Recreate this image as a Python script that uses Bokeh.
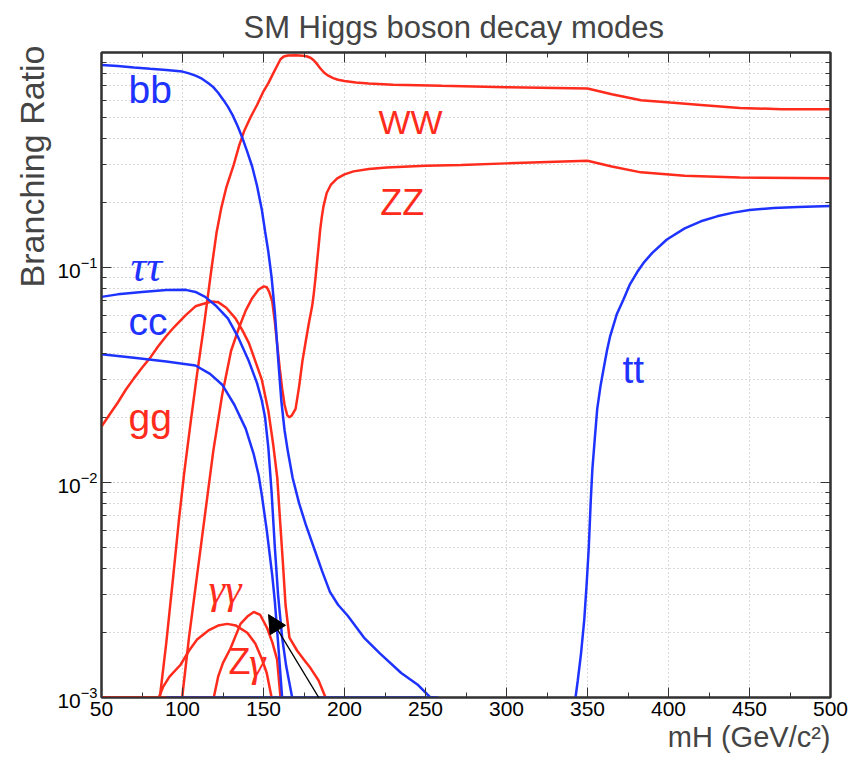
import numpy as np
from bokeh.plotting import figure
from bokeh.models import (FixedTicker, LinearAxis, LogAxis, Label, Arrow, NormalHead,
                          Range1d, CustomJSTickFormatter, Title)
from bokeh.embed import file_html
from bokeh.resources import INLINE

nan = np.nan

# ---------------- data ----------------
bb_m = [50, 60, 70, 80, 90, 100, 104, 108, 112, 116, 119, 122, 125, 128, 131, 134, 137, 140, 143, 146,
        149, 151, 153, 155, 157, 159, 161, 163, 165, 168, 172, 176, 181, 186, 191, 196, 202, 212, 222,
        235, 245, 253, 256]
bb = [0.875, 0.865, 0.852, 0.84, 0.83, 0.815, 0.80, 0.78, 0.755, 0.72, 0.69, 0.65, 0.605, 0.56, 0.51,
      0.455, 0.40, 0.345, 0.295, 0.24, 0.185, 0.147, 0.118, 0.09, 0.062, 0.038, 0.024, 0.0175, 0.014,
      0.0105, 0.008, 0.0064, 0.005, 0.0039, 0.0031, 0.0027, 0.0024, 0.0019, 0.0016, 0.0013, 0.00115,
      0.001, 0.001]

tautau_m = [50, 60, 75, 90, 102, 108, 114, 121, 128, 134, 141, 146, 149, 151, 153, 155, 157, 159, 161.5,
            164, 167.7]
tautau = [0.073, 0.075, 0.077, 0.0785, 0.0787, 0.077, 0.073, 0.066, 0.058, 0.048, 0.0366, 0.029, 0.024,
          0.02, 0.0145, 0.009, 0.005, 0.003, 0.0019, 0.0014, 0.001]

cc_m = [50, 70, 90, 108, 117, 124.5, 132, 139, 144, 147, 149, 152, 155.4, 157, 159, 161.5]
cc = [0.0395, 0.038, 0.0365, 0.035, 0.032, 0.0285, 0.023, 0.0178, 0.0135, 0.0108, 0.0087, 0.006, 0.0037,
      0.0028, 0.0018, 0.001]

tt_m = [90, 258, nan, 342.6, 344, 346, 348, 349.5, 350.8, 352, 353, 354.5, 356, 358, 360, 362, 364, 368,
        372, 376, 380.6, 385, 390, 399, 410, 420, 430, 440, 450, 465, 480, 500]
tt = [0.001, 0.001, nan, 0.001, 0.0012, 0.0016, 0.0023, 0.0034, 0.005, 0.0082, 0.0115, 0.016, 0.022,
      0.028, 0.034, 0.041, 0.048, 0.0604, 0.0705, 0.083, 0.095, 0.106, 0.117, 0.135, 0.152, 0.164, 0.173,
      0.18, 0.185, 0.189, 0.191, 0.193]

WW_m = [50, 86, 90, 94, 97.7, 101, 105, 109, 113, 118, 121, 124, 127, 131.6, 135, 138, 142, 146, 150,
        153, 156, 158.5, 160.5, 162.5, 165, 170, 174, 177, 179, 181, 183, 185, 187.5, 190, 193, 196, 200,
        207, 215, 230, 260, 300, 350, 365, 383, 401, 420, 444, 470, 500]
WW = [0.001, 0.001, 0.0018, 0.0035, 0.0066, 0.011, 0.019, 0.032, 0.052, 0.10, 0.145, 0.19, 0.235, 0.30,
      0.37, 0.43, 0.50, 0.57, 0.66, 0.72, 0.80, 0.87, 0.93, 0.958, 0.968, 0.97, 0.967, 0.958, 0.945, 0.92,
      0.885, 0.845, 0.805, 0.78, 0.76, 0.747, 0.737, 0.725, 0.717, 0.708, 0.70, 0.69, 0.68, 0.64, 0.60,
      0.585, 0.57, 0.552, 0.545, 0.545]

ZZ_m = [50, 99.8, 104, 109, 114, 119, 124.5, 130, 134.8, 139, 143, 147, 150.2, 152, 153.5, 155.4, 157,
        158.5, 160, 161.5, 163, 164.6, 166, 167.5, 169.8, 172, 174, 176, 178, 180, 181, 182, 183, 184, 185,
        186, 187, 189, 191.5, 195.5, 200, 205.6, 215, 226, 250, 272, 300, 350, 365, 383, 410, 444, 500]
ZZ = [0.001, 0.001, 0.0019, 0.0037, 0.0072, 0.014, 0.0256, 0.041, 0.0523, 0.063, 0.072, 0.079, 0.0817,
      0.081, 0.077, 0.0695, 0.056, 0.0436, 0.034, 0.0274, 0.023, 0.0206, 0.0201, 0.0205, 0.022, 0.028,
      0.0366, 0.045, 0.055, 0.066, 0.075, 0.088, 0.105, 0.125, 0.15, 0.172, 0.192, 0.222, 0.242, 0.26,
      0.271, 0.28, 0.287, 0.292, 0.297, 0.30, 0.305, 0.314, 0.295, 0.277, 0.267, 0.262, 0.26]

gg_m = [50, 55, 60, 65, 70, 75, 80, 85, 90, 95, 102, 108, 112, 118, 122, 127, 132.7, 137, 141, 145, 149,
        153, 156, 158.5, 160.5, 162, 163.6, 166, 170.8, 175, 179, 184, 188.3]
gg = [0.0182, 0.0207, 0.0235, 0.027, 0.0305, 0.0342, 0.038, 0.043, 0.048, 0.053, 0.06, 0.066, 0.0675,
      0.0695, 0.069, 0.065, 0.058, 0.051, 0.0445, 0.0366, 0.03, 0.0215, 0.015, 0.0105, 0.0062, 0.0042,
      0.0027, 0.0019, 0.00165, 0.0015, 0.00137, 0.0012, 0.001]

gamgam_m = [50, 85.4, 88, 92, 98.8, 104, 109, 116, 122, 127.6, 133, 140, 145, 149, 152, 155]
gamgam = [0.001, 0.001, 0.00112, 0.00125, 0.00142, 0.00165, 0.00186, 0.00205, 0.00216, 0.0022, 0.00216,
          0.002, 0.00178, 0.00151, 0.0013, 0.001]

Zgam_m = [50, 119.3, 122, 125, 129.6, 135.8, 140, 144, 148, 152.3, 155.5, 158.4, 160.5]
Zgam = [0.001, 0.001, 0.00125, 0.00145, 0.00169, 0.0022, 0.00238, 0.0025, 0.00242, 0.0021, 0.0018,
        0.0015, 0.001]

x_ticks = [50, 100, 150, 200, 250, 300, 350, 400, 450, 500]
y_ticks = [1e-3, 1e-2, 1e-1]

BLUE = "#1f33ff"
RED = "#ff2b1c"
FONT = "Liberation Sans"
GREEK = "Liberation Serif"

# frame position on the canvas (pixels)
FL, FR, FT, FB = 101, 830, 51, 697

# ---------------- figure ----------------
p = figure(width=850, height=760, x_range=Range1d(50, 500), y_range=Range1d(1e-3, 1),
           y_axis_type="log", output_backend="svg", toolbar_location=None,
           min_border_left=FL, min_border_right=850 - FR, min_border_top=FT, min_border_bottom=760 - FB)
p.background_fill_color = "white"
p.border_fill_color = "white"
p.outline_line_color = "#222222"
p.outline_line_width = 2

bottom_ax = p.below[0]
left_ax = p.left[0]

x_minor = [50 + 25 * i for i in range(19)]
y_minor = [k * 10.0 ** e for e in (-3, -2, -1) for k in range(1, 10)]
xt = FixedTicker(ticks=x_ticks, minor_ticks=x_minor)
yt = FixedTicker(ticks=y_ticks, minor_ticks=y_minor)

blank = CustomJSTickFormatter(code="return ''")
top_ax = LinearAxis(ticker=xt, formatter=blank)
right_ax = LogAxis(ticker=yt, formatter=blank)
p.add_layout(top_ax, "above")
p.add_layout(right_ax, "right")

for ax in [bottom_ax, left_ax, top_ax, right_ax]:
    ax.major_tick_in = 10
    ax.major_tick_out = 0
    ax.minor_tick_in = 5
    ax.minor_tick_out = 0
    ax.major_tick_line_color = "#333333"
    ax.minor_tick_line_color = "#333333"
    ax.axis_line_color = "#333333"
    ax.axis_line_width = 2
    ax.major_label_text_font = FONT
    ax.major_label_text_font_size = "21px"
    ax.major_label_text_color = "black"
for ax in [top_ax, right_ax]:
    ax.major_label_text_font_size = "0px"
    ax.major_label_standoff = 0
bottom_ax.ticker = xt
left_ax.ticker = yt
bottom_ax.major_label_standoff = 4
left_ax.major_label_standoff = 4

p.xgrid.ticker = xt
p.ygrid.ticker = yt
for g in [p.xgrid, p.ygrid]:
    g.grid_line_color = "#b4b4b4"
    g.grid_line_dash = "1 3"
    g.grid_line_width = 1
p.ygrid.minor_grid_line_color = "#b4b4b4"
p.ygrid.minor_grid_line_dash = "1 3"
p.ygrid.minor_grid_line_width = 1

# ---------------- curves ----------------
lw = 2.5
for xs, ys in [(WW_m, WW), (ZZ_m, ZZ), (gg_m, gg), (gamgam_m, gamgam), (Zgam_m, Zgam)]:
    p.line(np.array(xs, dtype=float), np.array(ys, dtype=float), line_color=RED, line_width=lw)
for xs, ys in [(bb_m, bb), (tautau_m, tautau), (cc_m, cc), (tt_m, tt)]:
    p.line(np.array(xs, dtype=float), np.array(ys, dtype=float), line_color=BLUE, line_width=lw)

# ---------------- curve labels ----------------
def lab(x, y, text, color, size="39px", style="normal", font=FONT):
    p.add_layout(Label(x=x, y=y, text=text, text_color=color, text_font=font,
                       text_font_size=size, text_font_style=style, text_align="left",
                       text_baseline="alphabetic"))

lab(66.7, 0.673, "bb", BLUE)
lab(221, 0.473, "WW", RED, size="34px")
lab(222, 0.2007, "ZZ", RED, size="36px")
lab(67.9, 0.101, "ττ", BLUE, size="44px", style="italic", font=GREEK)
lab(66.7, 0.0561, "cc", BLUE)
lab(66.7, 0.02005, "gg", RED)
lab(371.6, 0.0335, "tt", BLUE)
lab(116, 0.00318, "γγ", RED, size="42px", style="italic", font=GREEK)
lab(128.4, 0.00147, "Z", RED, size="36px")
lab(141.0, 0.00147, "γ", RED, size="42px", style="italic", font=GREEK)

# ---------------- title and axis titles ----------------
p.title.text = "SM Higgs boson decay modes"
p.title.text_font = FONT
p.title.text_font_size = "31px"
p.title.text_font_style = "normal"
p.title.align = "left"
p.title.offset = 243 - FL
p.title.standoff = 15

p.add_layout(Title(text="Branching Ratio", align="right", offset=-7, text_font=FONT,
                   text_font_size="34px", text_font_style="normal", standoff=8), "left")
p.add_layout(Title(text="mH (GeV/c²)", align="right", text_font=FONT, text_font_size="29px",
                   text_font_style="normal", standoff=0), "below")

# ---------------- annotation arrow ----------------
p.add_layout(Arrow(end=NormalHead(size=18, fill_color="black", line_color="black"),
                   x_start=208.0, y_start=5.04e-4, x_end=153.1, y_end=0.00243,
                   line_color="black", line_width=1.3))

open("out.html", "w").write(file_html(p, INLINE))
